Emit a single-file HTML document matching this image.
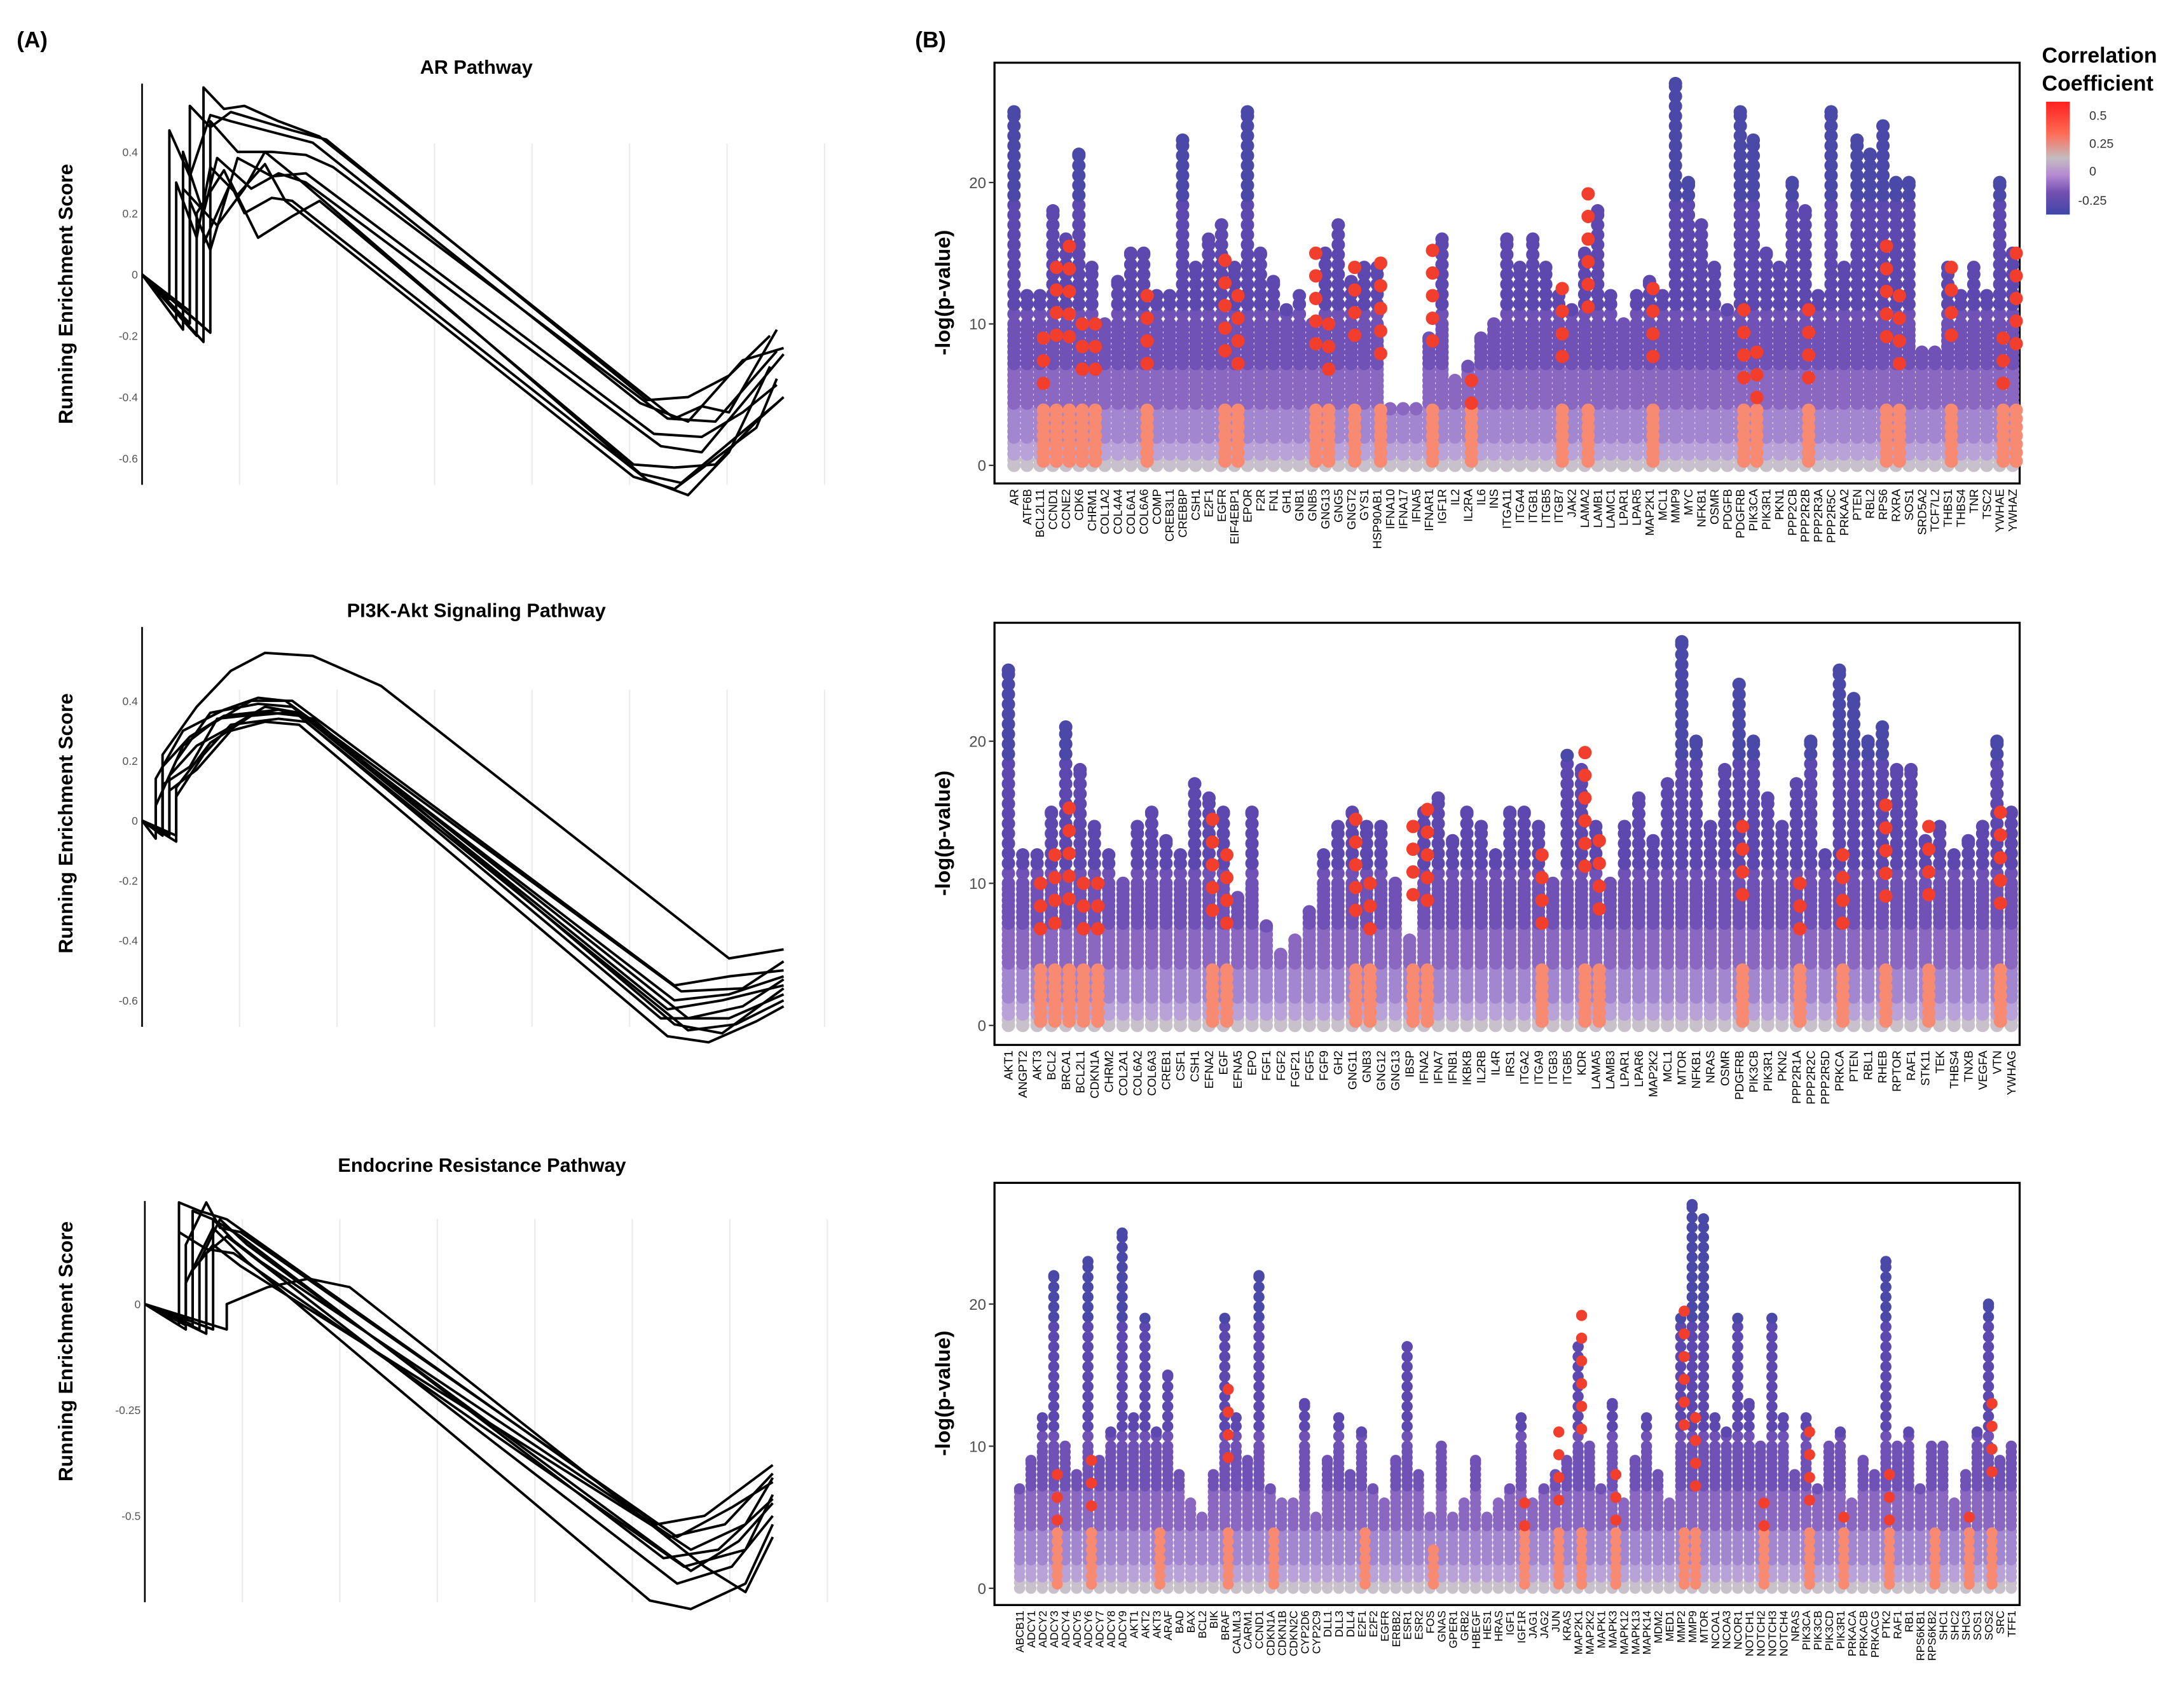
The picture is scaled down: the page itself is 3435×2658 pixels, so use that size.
<!DOCTYPE html>
<html><head><meta charset="utf-8"><style>
html,body{margin:0;padding:0;background:#fff}
svg{display:block}
text{font-family:"Liberation Sans",Arial,sans-serif}
</style></head><body>
<svg id="fig" xmlns="http://www.w3.org/2000/svg" width="3435" height="2658" viewBox="0 0 1568 1213" preserveAspectRatio="none">
<rect x="0" y="0" width="1568" height="1213" fill="#fff"/>
<text x="12" y="34" font-size="16" font-weight="bold">(A)</text>
<text x="657" y="34" font-size="16" font-weight="bold">(B)</text>
<text x="342" y="53" font-size="14" font-weight="bold" text-anchor="middle">AR Pathway</text>
<text x="342" y="443" font-size="14" font-weight="bold" text-anchor="middle">PI3K-Akt Signaling Pathway</text>
<text x="346" y="841" font-size="14" font-weight="bold" text-anchor="middle">Endocrine Resistance Pathway</text>
<text x="1466" y="45" font-size="15.5" font-weight="bold">Correlation</text>
<text x="1466" y="65" font-size="15.5" font-weight="bold">Coefficient</text>
<defs><linearGradient id="cbar" x1="0" y1="0" x2="0" y2="1">
<stop offset="0" stop-color="#ff1f1f"/><stop offset="0.28" stop-color="#ff6b55"/><stop offset="0.5" stop-color="#c4bcc0"/><stop offset="0.65" stop-color="#b58ad2"/><stop offset="0.8" stop-color="#7550b2"/><stop offset="1" stop-color="#3f46a8"/></linearGradient></defs>
<rect x="1469" y="73" width="17" height="81" fill="url(#cbar)"/>
<g id="lg" font-size="9" fill="#333">
<text x="1500" y="86">0.5</text><text x="1500" y="106">0.25</text><text x="1500" y="126">0</text><text x="1492" y="147">-0.25</text></g>
<g id="root"></g>
</svg>
<script>
const esTicksA1=[0.4,0.2,0,-0.2,-0.4,-0.6];
const esTicksA2=[0.4,0.2,0,-0.2,-0.4,-0.6];
const esTicksA3=[0,-0.25,-0.5];
const curvesA1=[
[[0,0],[0.09,-0.17],[0.09,0.61],[0.12,0.54],[0.15,0.55],[0.2,0.50],[0.26,0.45],[0.78,-0.47],[0.82,-0.43],[0.86,-0.45],[0.93,-0.18]],
[[0,0],[0.07,-0.12],[0.07,0.55],[0.1,0.48],[0.13,0.53],[0.22,0.47],[0.27,0.44],[0.74,-0.41],[0.8,-0.40],[0.86,-0.33],[0.92,-0.20]],
[[0,0],[0.04,-0.08],[0.04,0.47],[0.07,0.32],[0.1,0.52],[0.13,0.50],[0.25,0.43],[0.73,-0.42],[0.8,-0.48],[0.88,-0.28],[0.94,-0.24]],
[[0,0],[0.06,-0.18],[0.06,0.40],[0.09,0.20],[0.11,0.38],[0.16,0.28],[0.2,0.33],[0.24,0.30],[0.76,-0.56],[0.82,-0.58],[0.94,-0.26]],
[[0,0],[0.05,-0.15],[0.05,0.30],[0.08,0.12],[0.1,0.35],[0.14,0.26],[0.18,0.36],[0.21,0.24],[0.72,-0.66],[0.78,-0.70],[0.84,-0.6],[0.9,-0.5],[0.93,-0.34]],
[[0,0],[0.08,-0.20],[0.08,0.20],[0.12,0.34],[0.15,0.20],[0.19,0.25],[0.22,0.24],[0.74,-0.67],[0.8,-0.72],[0.86,-0.58],[0.92,-0.3]],
[[0,0],[0.09,-0.22],[0.09,0.10],[0.13,0.30],[0.17,0.12],[0.22,0.19],[0.26,0.24],[0.72,-0.62],[0.78,-0.63],[0.84,-0.62],[0.9,-0.48],[0.94,-0.40]],
[[0,0],[0.07,-0.16],[0.07,0.24],[0.1,0.08],[0.14,0.38],[0.19,0.32],[0.24,0.33],[0.75,-0.52],[0.82,-0.53],[0.88,-0.45],[0.93,-0.36]],
[[0,0],[0.06,-0.14],[0.06,0.28],[0.11,0.16],[0.15,0.28],[0.18,0.40],[0.23,0.31],[0.73,-0.65],[0.79,-0.68],[0.86,-0.55],[0.93,-0.42]],
[[0,0],[0.1,-0.19],[0.1,0.50],[0.14,0.40],[0.19,0.40],[0.24,0.39],[0.28,0.35],[0.77,-0.47],[0.84,-0.48],[0.93,-0.25]]];
const curvesA2=[
[[0,0],[0.03,-0.04],[0.03,0.22],[0.08,0.38],[0.13,0.50],[0.18,0.56],[0.25,0.55],[0.35,0.45],[0.86,-0.46],[0.94,-0.43]],
[[0,0],[0.03,-0.05],[0.03,0.1],[0.06,0.25],[0.1,0.32],[0.16,0.40],[0.22,0.40],[0.78,-0.55],[0.86,-0.52],[0.94,-0.50]],
[[0,0],[0.02,-0.06],[0.02,0.05],[0.05,0.20],[0.1,0.36],[0.17,0.39],[0.22,0.38],[0.78,-0.6],[0.86,-0.58],[0.94,-0.52]],
[[0,0],[0.04,-0.05],[0.04,0.15],[0.08,0.25],[0.12,0.30],[0.18,0.38],[0.23,0.36],[0.77,-0.63],[0.85,-0.6],[0.94,-0.55]],
[[0,0],[0.03,-0.03],[0.03,0.12],[0.07,0.18],[0.11,0.34],[0.19,0.36],[0.23,0.35],[0.76,-0.66],[0.86,-0.66],[0.94,-0.58]],
[[0,0],[0.05,-0.07],[0.05,0.08],[0.09,0.22],[0.13,0.32],[0.2,0.34],[0.24,0.33],[0.8,-0.7],[0.87,-0.68],[0.94,-0.6]],
[[0,0],[0.02,-0.03],[0.02,0.14],[0.06,0.30],[0.12,0.37],[0.17,0.41],[0.21,0.40],[0.79,-0.57],[0.88,-0.56],[0.94,-0.47]],
[[0,0],[0.04,-0.04],[0.04,0.1],[0.08,0.17],[0.13,0.30],[0.18,0.33],[0.23,0.32],[0.77,-0.72],[0.83,-0.74],[0.9,-0.67],[0.94,-0.62]],
[[0,0],[0.03,-0.05],[0.03,0.18],[0.07,0.28],[0.12,0.35],[0.2,0.37],[0.24,0.35],[0.8,-0.66],[0.88,-0.62],[0.94,-0.53]],
[[0,0],[0.05,-0.05],[0.05,0.11],[0.1,0.26],[0.16,0.35],[0.21,0.36],[0.25,0.34],[0.78,-0.68],[0.85,-0.71],[0.94,-0.56]]];
const curvesA3=[
[[0,0],[0.05,-0.05],[0.05,0.24],[0.08,0.22],[0.12,0.20],[0.75,-0.52],[0.82,-0.5],[0.92,-0.38]],
[[0,0],[0.06,-0.06],[0.06,0.14],[0.09,0.24],[0.11,0.18],[0.14,0.17],[0.78,-0.55],[0.86,-0.48],[0.92,-0.42]],
[[0,0],[0.07,-0.05],[0.07,0.22],[0.1,0.20],[0.14,0.16],[0.76,-0.6],[0.84,-0.58],[0.92,-0.46]],
[[0,0],[0.08,-0.06],[0.08,0.10],[0.11,0.20],[0.15,0.14],[0.8,-0.63],[0.87,-0.56],[0.92,-0.47]],
[[0,0],[0.09,-0.07],[0.09,0.12],[0.12,0.16],[0.16,0.11],[0.78,-0.66],[0.86,-0.62],[0.92,-0.50]],
[[0,0],[0.06,-0.05],[0.06,0.05],[0.1,0.18],[0.15,0.10],[0.74,-0.70],[0.8,-0.72],[0.88,-0.66],[0.92,-0.52]],
[[0,0],[0.1,-0.06],[0.1,0.20],[0.13,0.15],[0.17,0.10],[0.8,-0.58],[0.88,-0.52],[0.92,-0.41]],
[[0,0],[0.12,-0.06],[0.12,0.0],[0.18,0.04],[0.24,0.06],[0.3,0.04],[0.82,-0.62],[0.88,-0.68],[0.92,-0.55]],
[[0,0],[0.05,-0.04],[0.05,0.17],[0.09,0.13],[0.13,0.12],[0.79,-0.62],[0.88,-0.58],[0.92,-0.45]],
[[0,0],[0.07,-0.05],[0.07,0.08],[0.1,0.14],[0.14,0.09],[0.77,-0.55],[0.85,-0.52],[0.92,-0.40]]];

const genesB1=["AR","ATF6B","BCL2L11","CCND1","CCNE2","CDK6","CHRM1","COL1A2","COL4A4","COL6A1","COL6A6","COMP","CREB3L1","CREBBP","CSH1","E2F1","EGFR","EIF4EBP1","EPOR","F2R","FN1","GH1","GNB1","GNB5","GNG13","GNG5","GNGT2","GYS1","HSP90AB1","IFNA10","IFNA17","IFNA5","IFNAR1","IGF1R","IL2","IL2RA","IL6","INS","ITGA11","ITGA4","ITGB1","ITGB5","ITGB7","JAK2","LAMA2","LAMB1","LAMC1","LPAR1","LPAR5","MAP2K1","MCL1","MMP9","MYC","NFKB1","OSMR","PDGFB","PDGFRB","PIK3CA","PIK3R1","PKN1","PPP2CB","PPP2R2B","PPP2R3A","PPP2R5C","PRKAA2","PTEN","RBL2","RPS6","RXRA","SOS1","SRD5A2","TCF7L2","THBS1","THBS4","TNR","TSC2","YWHAE","YWHAZ"];
const maxB1=[25,12,12,18,16,22,14,10,13,15,15,12,12,23,14,16,17,14,25,15,13,11,12,10,15,17,13,14,14,4,4,4,9,16,6,7,9,10,16,14,16,14,12,11,15,18,12,10,12,13,12,27,20,17,14,11,25,23,15,14,20,18,12,25,14,23,22,24,20,20,8,8,14,12,14,12,20,15];
const redB1=[0,0,9,14,15.5,10,10,0,0,0,12,0,0,0,0,0,14.5,12,0,0,0,0,0,15,10,0,14,0,14.3,0,0,0,15.2,0,0,6,0,0,0,0,0,0,12.5,0,19.2,0,0,0,0,12.5,0,0,0,0,0,0,11,8,0,0,0,11,0,0,0,0,0,15.5,12,0,0,0,14,0,0,0,9,15];
const genesB2=["AKT1","ANGPT2","AKT3","BCL2","BRCA1","BCL2L1","CDKN1A","CHRM2","COL2A1","COL6A2","COL6A3","CREB1","CSF1","CSH1","EFNA2","EGF","EFNA5","EPO","FGF1","FGF2","FGF21","FGF5","FGF9","GH2","GNG11","GNB3","GNG12","GNG13","IBSP","IFNA2","IFNA7","IFNB1","IKBKB","IL2RB","IL4R","IRS1","ITGA2","ITGA9","ITGB3","ITGB5","KDR","LAMA5","LAMB3","LPAR1","LPAR6","MAP2K2","MCL1","MTOR","NFKB1","NRAS","OSMR","PDGFRB","PIK3CB","PIK3R1","PKN2","PPP2R1A","PPP2R2C","PPP2R5D","PRKCA","PTEN","RBL1","RHEB","RPTOR","RAF1","STK11","TEK","THBS4","TNXB","VEGFA","VTN","YWHAG"];
const maxB2=[25,12,12,15,21,18,14,12,10,14,15,13,12,17,16,15,9,15,7,5,6,8,12,14,15,14,14,10,6,15,16,13,15,14,12,15,15,14,10,19,18,14,10,14,16,13,17,27,20,14,18,24,20,16,14,17,20,12,25,23,20,21,18,18,13,14,12,13,14,20,15];
const redB2=[0,0,10,12,15.3,10,10,0,0,0,0,0,0,0,14.5,12,0,0,0,0,0,0,0,0,14.5,10,0,0,14,15.2,0,0,0,0,0,0,0,12,0,0,19.2,13,0,0,0,0,0,0,0,0,0,14,0,0,0,10,0,0,12,0,0,15.5,0,0,14,0,0,0,0,15,0];
const genesB3=["ABCB11","ADCY1","ADCY2","ADCY3","ADCY4","ADCY5","ADCY6","ADCY7","ADCY8","ADCY9","AKT1","AKT2","AKT3","ARAF","BAD","BAX","BCL2","BIK","BRAF","CALML3","CARM1","CCND1","CDKN1A","CDKN1B","CDKN2C","CYP2D6","CYP2C9","DLL1","DLL3","DLL4","E2F1","E2F2","EGFR","ERBB2","ESR1","ESR2","FOS","GNAS","GPER1","GRB2","HBEGF","HES1","HRAS","IGF1","IGF1R","JAG1","JAG2","JUN","KRAS","MAP2K1","MAP2K2","MAPK1","MAPK3","MAPK12","MAPK13","MAPK14","MDM2","MED1","MMP2","MMP9","MTOR","NCOA1","NCOA3","NCOR1","NOTCH1","NOTCH2","NOTCH3","NOTCH4","NRAS","PIK3CA","PIK3CB","PIK3CD","PIK3R1","PRKACA","PRKACB","PRKACG","PTK2","RAF1","RB1","RPS6KB1","RPS6KB2","SHC1","SHC2","SHC3","SOS1","SOS2","SRC","TFF1"];
const maxB3=[7,9,12,22,10,8,23,9,11,25,12,19,11,15,8,6,5,8,19,12,9,22,7,6,6,13,5,9,12,8,11,7,6,9,17,8,5,10,5,6,9,5,6,7,12,6,7,8,9,17,10,7,13,6,9,12,8,6,19,27,26,12,11,19,13,10,19,12,8,12,7,10,11,6,9,8,23,10,11,7,10,10,6,8,11,20,9,10];
const redB3=[0,0,0,8,0,0,9,0,0,0,0,0,4,0,0,0,0,0,14,0,0,0,4,0,0,0,0,0,0,0,4,0,0,0,0,0,3,0,0,0,0,0,0,0,6,0,0,11,0,19.2,0,0,8,0,0,0,0,0,19.5,12,0,0,0,0,0,6,0,0,0,11,0,0,5,0,0,0,8,0,0,0,4,0,0,5,0,13,0,0];
const pTicks=[0,10,20];

const NS="http://www.w3.org/2000/svg";
const root=document.getElementById('root');
function mk(tag,attrs,parent){const e=document.createElementNS(NS,tag);for(const k in attrs)e.setAttribute(k,attrs[k]);(parent||root).appendChild(e);return e;}

function gsea(name,curves,ticks,o){
  const g=mk('g',{});
  
  
  const xs=f=>o.x0+f*490;
  const ys=v=>o.y0-v*o.k;
  for(let i=1;i<=7;i++){
    const gl=mk('line',{x1:xs(i/7),x2:xs(i/7),y1:o.gt,y2:o.bot,stroke:'#ebebeb','stroke-width':1},g);
    
    
  }
  const ax=mk('line',{x1:o.x0,x2:o.x0,y1:o.top,y2:o.bot,stroke:'#000','stroke-width':1.2},g);
  
  
  ticks.forEach(t=>{
    const tx=mk('text',{x:o.x0-3,y:ys(t)+3,'font-size':8,'text-anchor':'end',fill:'#555'},g);
    tx.textContent=t.toString();
    
    
  });
  curves.forEach(c=>{
    const pl=mk('polyline',{points:c.map(p=>xs(p[0])+','+ys(p[1])).join(' '),fill:'none',stroke:'#000','stroke-width':1.8,'stroke-linejoin':'round'},g);
    
    
  });
  const yt=mk('text',{x:0,y:0,'font-size':14.5,'font-weight':'bold','text-anchor':'middle',transform:`translate(52,${o.tc}) rotate(-90)`},g);
  yt.textContent='Running Enrichment Score';
  
  
}
gsea('gsea-ar-pathway',curvesA1,esTicksA1,{x0:102,y0:197,k:220,top:60,bot:348,gt:103,tc:211});
gsea('gsea-pi3k-pathway',curvesA2,esTicksA2,{x0:102,y0:589,k:215,top:450,bot:737,gt:495,tc:591});
gsea('gsea-endocrine-pathway',curvesA3,esTicksA3,{x0:104,y0:936,k:304,top:862,bot:1150,gt:875,tc:970});

function colP(v){ if(v<0.6)return '#c8c0ca'; if(v<2)return '#b8a2d8'; if(v<4)return '#a286d0'; if(v<7)return '#8a68c2'; if(v<11)return '#7052b6'; if(v<19)return '#5c48ae'; return '#4b49a8';}

function manhattan(name,genes,maxv,redv,o){
  const g=mk('g',{});
  
  
  const n=genes.length;
  const xs=i=>o.xa+i*(o.xb-o.xa)/(n-1);
  const ys=v=>o.y0-v*o.k;
  const box=mk('rect',{x:714,y:o.top,width:736,height:o.bot-o.top,fill:'none',stroke:'#000','stroke-width':1.5},g);
  
  
  const dots=mk('g',{},g);
  
  
  maxv.forEach((m,i)=>{
    for(let v=0;v<=m;v+=(v<10?0.4:0.7)){
      const c=mk('circle',{cx:xs(i),cy:ys(v),r:o.r,fill:colP(v)},dots);
      
      
    }
    const t=mk('circle',{cx:xs(i),cy:ys(m),r:o.r,fill:colP(m)},dots);
    
    
  });
  redv.forEach((m,i)=>{
    if(!m)return;
    const lim=Math.min(4,m);
    for(let v=0.3;v<=lim;v+=0.6){
      const c=mk('circle',{cx:xs(i)+2.5,cy:ys(v),r:o.r,fill:'#f78a70'},dots);
      
      
    }
    for(let v=m;v>Math.max(lim,m*0.55);v-=1.6){
      const c=mk('circle',{cx:xs(i)+2.5,cy:ys(v),r:o.r,fill:'#f23e2c'},dots);
      
      
    }
  });
  pTicks.forEach(t=>{
    const tk=mk('line',{x1:710,x2:714,y1:ys(t),y2:ys(t),stroke:'#333','stroke-width':1},g);
    
    
    const tl=mk('text',{x:708,y:ys(t)+4,'font-size':11,'text-anchor':'end',fill:'#4d4d4d'},g);
    tl.textContent=String(t);
    
    
  });
  genes.forEach((gn,i)=>{
    const tx=mk('text',{x:0,y:0,'font-size':o.fs,'text-anchor':'end',transform:`translate(${xs(i)+3},${o.bot+4}) rotate(-90)`},g);
    tx.textContent=gn;
    
    
  });
  const yt=mk('text',{x:0,y:0,'font-size':15,'font-weight':'bold','text-anchor':'middle',transform:`translate(682,${o.tc}) rotate(-90)`},g);
  yt.textContent='-log(p-value)';
  
  
}
manhattan('manhattan-ar',genesB1,maxB1,redB1,{xa:728,xb:1445,top:45,bot:347,y0:334,k:10.15,r:4.8,fs:8.5,tc:210});
manhattan('manhattan-pi3k',genesB2,maxB2,redB2,{xa:724,xb:1444,top:447,bot:750,y0:736,k:10.2,r:4.8,fs:8.5,tc:598});
manhattan('manhattan-endocrine',genesB3,maxB3,redB3,{xa:732,xb:1444,top:849,bot:1152,y0:1140,k:10.2,r:4.0,fs:8,tc:1000});
</script>
</body></html>
